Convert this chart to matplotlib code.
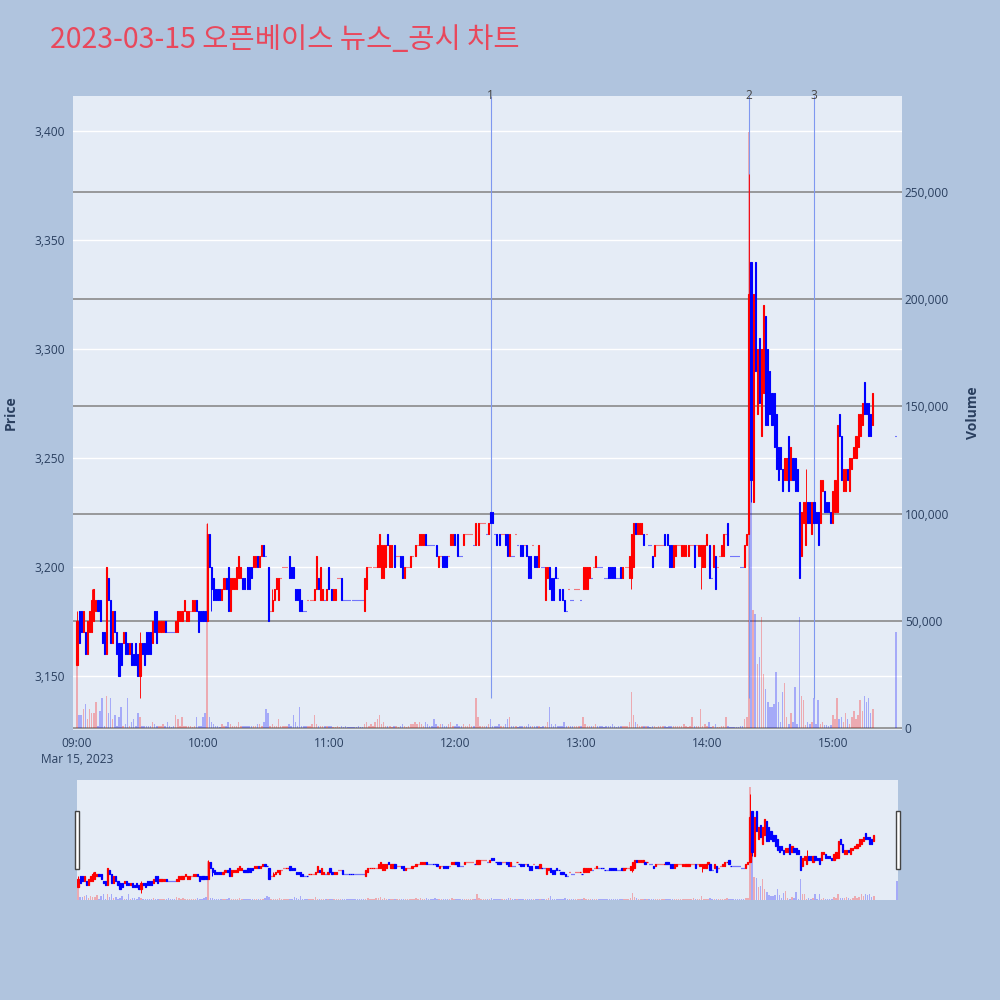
from __future__ import annotations

import matplotlib

matplotlib.use("Agg")

import matplotlib.pyplot as plt
import numpy as np
from matplotlib.patches import Rectangle
from matplotlib.ticker import FuncFormatter


CHART_TITLE = "2023-03-15 오픈베이스 뉴스_공시 차트"

# 1분봉 (09:00 기준 분), 마지막 봉은 15:30 동시호가
trade_minutes = list(range(380)) + [390]

open_prices = [
    # 09:00
    3155, 3180, 3180, 3170, 3170, 3160, 3170, 3170, 3175, 3180,
    3185, 3185, 3170, 3170, 3160, 3195, 3185, 3165, 3180, 3170,
    3165, 3165, 3165, 3170, 3165, 3160, 3165, 3160, 3165, 3160,
    3150, 3165, 3165, 3170, 3170, 3170, 3165, 3180, 3180, 3170,
    3170, 3170, 3175, 3170, 3170, 3170, 3170, 3170, 3170, 3175,
    3175, 3180, 3175, 3175, 3180, 3180, 3180, 3185, 3180, 3180,
    # 10:00
    3180, 3180, 3175, 3215, 3200, 3195, 3190, 3190, 3190, 3185,
    3190, 3195, 3200, 3180, 3190, 3190, 3190, 3195, 3195, 3195,
    3195, 3200, 3200, 3200, 3200, 3200, 3205, 3200, 3205, 3210,
    3205, 3200, 3180, 3180, 3185, 3190, 3185, 3195, 3200, 3200,
    3200, 3205, 3200, 3200, 3190, 3190, 3190, 3185, 3180, 3180,
    3185, 3185, 3185, 3185, 3190, 3195, 3185, 3185, 3185, 3185,
    # 11:00
    3200, 3190, 3185, 3185, 3195, 3195, 3195, 3185, 3185, 3185,
    3185, 3185, 3185, 3185, 3185, 3185, 3185, 3180, 3190, 3200,
    3200, 3200, 3200, 3200, 3200, 3195, 3195, 3200, 3215, 3200,
    3200, 3210, 3205, 3205, 3205, 3205, 3195, 3200, 3200, 3200,
    3205, 3205, 3210, 3210, 3210, 3210, 3215, 3210, 3210, 3210,
    3210, 3210, 3200, 3205, 3205, 3205, 3205, 3205, 3210, 3210,
    # 12:00
    3215, 3215, 3205, 3205, 3210, 3215, 3215, 3215, 3215, 3210,
    3210, 3210, 3220, 3220, 3220, 3215, 3215, 3225, 3225, 3215,
    3215, 3215, 3215, 3215, 3215, 3215, 3205, 3205, 3205, 3215,
    3210, 3210, 3210, 3210, 3210, 3205, 3205, 3210, 3205, 3205,
    3200, 3200, 3200, 3185, 3195, 3200, 3195, 3195, 3200, 3195,
    3190, 3190, 3185, 3180, 3190, 3185, 3185, 3190, 3190, 3190,
    # 13:00
    3185, 3190, 3190, 3190, 3195, 3195, 3200, 3200, 3200, 3200,
    3200, 3195, 3195, 3200, 3200, 3200, 3200, 3195, 3195, 3200,
    3195, 3200, 3200, 3195, 3195, 3200, 3220, 3215, 3215, 3215,
    3215, 3215, 3210, 3210, 3205, 3205, 3210, 3210, 3210, 3210,
    3215, 3215, 3210, 3210, 3200, 3205, 3210, 3210, 3205, 3205,
    3205, 3205, 3210, 3210, 3210, 3210, 3205, 3205, 3200, 3200,
    # 14:00
    3210, 3210, 3195, 3200, 3205, 3200, 3205, 3205, 3205, 3215,
    3220, 3205, 3205, 3205, 3205, 3205, 3200, 3200, 3200, 3210,
    3215, 3340, 3230, 3340, 3270, 3305, 3260, 3280, 3315, 3300,
    3290, 3280, 3280, 3270, 3255, 3255, 3245, 3240, 3240, 3260,
    3240, 3250, 3250, 3245, 3230, 3205, 3220, 3210, 3230, 3230,
    3215, 3230, 3225, 3225, 3220, 3235, 3235, 3230, 3230, 3225,
    # 15:00
    3220, 3225, 3225, 3270, 3260, 3235, 3235, 3245, 3235, 3245,
    3250, 3250, 3255, 3260, 3265, 3285, 3275, 3275, 3270, 3265,
    # 15:30
    3260,
]

close_prices = [
    # 09:00
    3175, 3165, 3170, 3180, 3160, 3175, 3180, 3185, 3190, 3185,
    3180, 3175, 3165, 3160, 3200, 3185, 3165, 3180, 3170, 3160,
    3150, 3155, 3170, 3160, 3160, 3165, 3155, 3155, 3155, 3150,
    3165, 3160, 3155, 3160, 3160, 3160, 3175, 3170, 3165, 3175,
    3175, 3175, 3170, 3170, 3170, 3170, 3170, 3175, 3180, 3180,
    3180, 3185, 3180, 3180, 3180, 3185, 3185, 3180, 3170, 3175,
    # 10:00
    3175, 3175, 3215, 3200, 3190, 3185, 3185, 3185, 3185, 3190,
    3195, 3190, 3180, 3195, 3195, 3195, 3200, 3205, 3200, 3190,
    3190, 3190, 3190, 3195, 3205, 3205, 3200, 3205, 3210, 3205,
    3205, 3175, 3180, 3185, 3190, 3195, 3195, 3195, 3200, 3200,
    3200, 3195, 3195, 3195, 3185, 3185, 3180, 3180, 3180, 3180,
    3185, 3185, 3185, 3190, 3205, 3190, 3200, 3190, 3185, 3190,
    # 11:00
    3190, 3185, 3190, 3190, 3195, 3195, 3185, 3185, 3185, 3185,
    3185, 3185, 3185, 3185, 3185, 3185, 3185, 3195, 3200, 3200,
    3200, 3200, 3200, 3210, 3215, 3210, 3210, 3210, 3210, 3210,
    3210, 3200, 3205, 3205, 3200, 3195, 3200, 3200, 3200, 3205,
    3205, 3210, 3210, 3215, 3215, 3215, 3210, 3210, 3210, 3210,
    3210, 3205, 3205, 3205, 3200, 3200, 3200, 3205, 3215, 3215,
    # 12:00
    3210, 3205, 3205, 3205, 3215, 3215, 3215, 3215, 3215, 3210,
    3220, 3220, 3220, 3220, 3220, 3215, 3220, 3220, 3220, 3215,
    3210, 3210, 3215, 3215, 3210, 3205, 3215, 3205, 3205, 3215,
    3210, 3205, 3205, 3210, 3205, 3195, 3195, 3210, 3200, 3200,
    3210, 3200, 3200, 3200, 3200, 3190, 3185, 3185, 3195, 3195,
    3185, 3185, 3180, 3180, 3190, 3185, 3185, 3190, 3190, 3190,
    # 13:00
    3185, 3200, 3200, 3200, 3200, 3195, 3200, 3205, 3200, 3200,
    3200, 3195, 3195, 3195, 3195, 3195, 3195, 3195, 3195, 3195,
    3200, 3200, 3200, 3205, 3215, 3220, 3215, 3220, 3220, 3220,
    3210, 3215, 3210, 3210, 3200, 3210, 3210, 3210, 3210, 3210,
    3210, 3210, 3200, 3200, 3210, 3210, 3210, 3210, 3210, 3210,
    3210, 3210, 3210, 3210, 3200, 3210, 3210, 3210, 3210, 3210,
    # 14:00
    3215, 3195, 3195, 3210, 3190, 3200, 3205, 3210, 3215, 3215,
    3210, 3205, 3205, 3205, 3205, 3205, 3200, 3200, 3210, 3215,
    3325, 3240, 3325, 3290, 3300, 3275, 3300, 3320, 3265, 3265,
    3270, 3265, 3255, 3245, 3240, 3245, 3235, 3250, 3250, 3235,
    3255, 3240, 3235, 3235, 3195, 3225, 3230, 3230, 3220, 3220,
    3230, 3220, 3220, 3210, 3240, 3240, 3225, 3225, 3225, 3220,
    # 15:00
    3235, 3240, 3265, 3260, 3240, 3245, 3245, 3240, 3250, 3250,
    3255, 3260, 3270, 3270, 3275, 3270, 3270, 3260, 3260, 3280,
    # 15:30
    3260,
]

# 꼬리가 몸통 밖으로 나온 봉 (분: 가격)
upper_wicks = {0: 3180, 7: 3190, 30: 3170, 62: 3220, 93: 3190, 320: 3380, 347: 3245}
lower_wicks = {30: 3140, 64: 3180, 264: 3190, 297: 3190, 321: 3230, 347: 3210}

volumes = [
    # 09:00
    29000, 6000, 6000, 9000, 11000, 4000, 9000, 7000, 7000, 12000,
    1000, 8000, 14000, 1000, 15000, 7000, 14000, 4000, 6000, 1000,
    5000, 10000, 1000, 2000, 14000, 1000, 3000, 4000, 1000, 7000,
    5000, 1000, 1000, 1000, 1000, 1000, 3000, 2000, 1000, 1000,
    1000, 2000, 1000, 3000, 1000, 500, 1000, 6000, 4000, 1000,
    5000, 1000, 1000, 1000, 1000, 500, 1000, 5000, 1000, 1000,
    # 10:00
    5000, 7000, 95000, 5000, 3000, 2000, 1000, 1000, 500, 2000,
    1000, 1000, 3000, 2000, 1000, 1000, 1000, 3000, 1000, 1000,
    1000, 1000, 1000, 1000, 1000, 1000, 2000, 2000, 1000, 3000,
    9000, 7000, 1000, 2000, 1000, 1000, 4000, 1000, 1000, 1000,
    1000, 2000, 1000, 6000, 3000, 1000, 10000, 1000, 1000, 1000,
    1000, 1000, 2000, 6000, 2000, 1000, 1000, 1000, 1000, 1000,
    # 11:00
    1000, 1000, 500, 500, 1000, 500, 1000, 500, 1000, 500,
    500, 500, 500, 500, 1000, 500, 500, 2000, 3000, 1000,
    2000, 1000, 3000, 4000, 6000, 2000, 3000, 1000, 1000, 1000,
    500, 1000, 1000, 500, 1000, 2000, 1000, 500, 1000, 2000,
    2000, 3000, 2000, 3000, 2000, 1000, 3000, 2000, 1000, 1000,
    4000, 2000, 1000, 2000, 2000, 1000, 1000, 2000, 3000, 1000,
    # 12:00
    1000, 2000, 1000, 1000, 2000, 1000, 1000, 2000, 1000, 1000,
    14000, 5000, 1000, 1000, 1000, 1000, 2000, 4000, 1000, 1000,
    1000, 2000, 1000, 1000, 2000, 4000, 5000, 1000, 1000, 1000,
    500, 1000, 1000, 1000, 1000, 2000, 1000, 1000, 1000, 1000,
    1000, 500, 1000, 1000, 3000, 10000, 2000, 1000, 2000, 1000,
    1000, 1000, 3000, 1000, 1000, 1000, 1000, 1000, 1000, 1000,
    # 13:00
    1000, 5000, 2000, 1000, 1000, 1000, 1000, 2000, 1000, 1000,
    1000, 500, 1000, 1000, 1000, 2000, 1000, 500, 1000, 1000,
    1000, 1000, 1000, 3000, 17000, 6000, 3000, 2000, 1000, 1000,
    1000, 1000, 1000, 500, 1000, 1000, 500, 1000, 1000, 1000,
    1000, 500, 1000, 1000, 1000, 1000, 1000, 1000, 1000, 2000,
    1000, 500, 1000, 5000, 1000, 1000, 1000, 9000, 1000, 2000,
    # 14:00
    1000, 3000, 500, 1000, 2000, 500, 500, 1000, 1000, 5000,
    1000, 500, 500, 500, 500, 500, 1000, 1000, 4000, 5000,
    278000, 125000, 55000, 53000, 30000, 33000, 52000, 25000, 18000, 12000,
    10000, 10000, 11000, 26000, 12000, 3000, 17000, 21000, 5000, 2000,
    7000, 3000, 19000, 2000, 52000, 15000, 13000, 1500, 3000, 2000,
    3000, 14000, 2000, 13000, 2000, 3000, 1500, 1500, 1000, 1500,
    # 15:00
    6000, 4000, 14000, 4000, 5000, 3000, 7000, 4000, 2000, 5000,
    8000, 4000, 6000, 13000, 8000, 15000, 12000, 14000, 7000, 9000,
    # 15:30
    45000,
]

hour_ticks = [0, 60, 120, 180, 240, 300, 360]
hour_labels = ["09:00\nMar 15, 2023", "10:00", "11:00", "12:00", "13:00", "14:00", "15:00"]

price_ticks = [3150, 3200, 3250, 3300, 3350, 3400]
volume_ticks = [0, 50000, 100000, 150000, 200000, 250000]

# 뉴스/공시 시점 (12:17, 14:20, 14:51)
event_minutes = [197, 320, 351]
event_labels = ["1", "2", "3"]

UP_COLOR = "#ff0000"
DOWN_COLOR = "#0000ff"
PAGE_COLOR = "#b0c4de"
PLOT_COLOR = "#e5ecf6"
TEXT_COLOR = "#2a3f5f"

PRICE_RANGE = (3125.2, 3416.0)
VOLUME_RANGE = (-930, 294800)


def candle_directions(opens, closes):
    """상승/하락 판정 (시가=종가이면 직전 종가와 비교)."""

    rising = np.zeros(len(opens), dtype=bool)

    for i in range(len(opens)):
        if closes[i] > opens[i]:
            rising[i] = True
        elif closes[i] < opens[i]:
            rising[i] = False
        elif i == 0:
            rising[i] = True
        elif closes[i] > closes[i - 1]:
            rising[i] = True
        elif closes[i] < closes[i - 1]:
            rising[i] = False
        else:
            rising[i] = rising[i - 1]

    return rising


def draw_candles(ax, x, opens, highs, lows, closes, colors, body_width, line_width):
    ax.vlines(x, lows, highs, colors=colors, linewidth=line_width * 0.8, zorder=3)

    ax.bar(
        x,
        np.abs(closes - opens),
        bottom=np.minimum(opens, closes),
        width=body_width,
        color=colors,
        edgecolor=colors,
        linewidth=line_width,
        zorder=4,
    )


def draw_volume(ax, x, vols, colors, bar_width):
    ax.bar(x, vols, width=bar_width, color=colors, alpha=0.28, linewidth=0, zorder=2)


def hide_spines(ax):
    for spine in ax.spines.values():
        spine.set_visible(False)


def main() -> None:
    plt.rcParams["font.family"] = ["Open Sans", "Noto Sans CJK KR", "DejaVu Sans"]

    x = np.array(trade_minutes, dtype=float)
    opens = np.array(open_prices, dtype=float)
    closes = np.array(close_prices, dtype=float)
    vols = np.array(volumes, dtype=float)

    highs = np.maximum(opens, closes)
    lows = np.minimum(opens, closes)
    for minute, price in upper_wicks.items():
        highs[trade_minutes.index(minute)] = price
    for minute, price in lower_wicks.items():
        lows[trade_minutes.index(minute)] = price

    rising = candle_directions(opens, closes)
    colors = np.where(rising, UP_COLOR, DOWN_COLOR)

    fig = plt.figure(figsize=(10, 10), dpi=100, facecolor=PAGE_COLOR)

    # 메인 차트
    ax = fig.add_axes([0.073, 0.27, 0.829, 0.634], facecolor=PLOT_COLOR)
    ax_vol = ax.twinx()
    ax_c = ax.twinx()

    ax.set_zorder(1)
    ax_vol.set_zorder(2)
    ax_c.set_zorder(3)
    ax_vol.patch.set_visible(False)
    ax_c.patch.set_visible(False)

    for a in (ax, ax_vol, ax_c):
        hide_spines(a)
        a.set_xlim(-1.9, 392.9)

    ax.set_ylim(*PRICE_RANGE)
    ax_c.set_ylim(*PRICE_RANGE)
    ax_vol.set_ylim(*VOLUME_RANGE)

    ax.set_yticks(price_ticks)
    ax.yaxis.set_major_formatter(FuncFormatter(lambda v, _: f"{v:,.0f}"))
    ax.grid(axis="y", color="white", linewidth=1.0)
    ax.set_axisbelow(True)

    ax.set_xticks(hour_ticks)
    ax.set_xticklabels(hour_labels, linespacing=1.35)
    ax.tick_params(axis="x", length=0, pad=5, labelsize=8.6, labelcolor=TEXT_COLOR)
    ax.tick_params(axis="y", length=0, pad=6, labelsize=8.6, labelcolor=TEXT_COLOR)

    ax_vol.set_yticks(volume_ticks)
    ax_vol.yaxis.set_major_formatter(FuncFormatter(lambda v, _: f"{v:,.0f}"))
    ax_vol.grid(axis="y", color="#8a8a8a", linewidth=1.2)
    ax_vol.tick_params(axis="y", length=0, pad=2, labelsize=8.6, labelcolor=TEXT_COLOR)

    ax_c.set_yticks([])
    ax_c.tick_params(axis="both", length=0)

    draw_volume(ax_vol, x, vols, colors, 0.7)
    draw_candles(ax_c, x, opens, highs, lows, closes, colors, 0.5, 0.8)

    for minute, label in zip(event_minutes, event_labels):
        ax_c.vlines(minute, 3140, PRICE_RANGE[1], colors="#7f98f0", linewidth=0.8, zorder=2)
        ax_c.text(
            minute,
            PRICE_RANGE[1],
            label,
            ha="center",
            va="center",
            fontsize=8.6,
            color="#444444",
            clip_on=False,
        )

    # 레인지 슬라이더
    ax_s = fig.add_axes([0.077, 0.10, 0.821, 0.12], facecolor=PLOT_COLOR)
    ax_s_price = ax_s.twinx()
    ax_s_price.patch.set_visible(False)

    for a in (ax_s, ax_s_price):
        hide_spines(a)
        a.set_xlim(-0.5, 390.5)
        a.set_xticks([])
        a.set_yticks([])

    ax_s.set_ylim(*VOLUME_RANGE)
    ax_s_price.set_ylim(3123, 3414)

    draw_volume(ax_s, x, vols, colors, 0.7)
    draw_candles(ax_s_price, x, opens, highs, lows, closes, colors, 0.6, 0.9)

    for left in (0.0745, 0.8955):
        fig.add_artist(
            Rectangle(
                (left, 0.131),
                0.004,
                0.058,
                transform=fig.transFigure,
                facecolor="white",
                edgecolor="#444444",
                linewidth=1.0,
            )
        )

    # 제목, 축 이름
    fig.text(
        0.05,
        0.96,
        CHART_TITLE,
        ha="left",
        va="center",
        fontsize=20.5,
        color="#e8485c",
        family=["Noto Sans CJK KR", "DejaVu Sans"],
    )

    fig.text(0.011, 0.587, "Price", rotation=90, ha="center", va="center",
             fontsize=10, fontweight="bold", color=TEXT_COLOR)
    fig.text(0.973, 0.587, "Volume", rotation=90, ha="center", va="center",
             fontsize=10, fontweight="bold", color=TEXT_COLOR)

    fig.savefig("out.png", dpi=100, facecolor=PAGE_COLOR)


if __name__ == "__main__":
    main()
